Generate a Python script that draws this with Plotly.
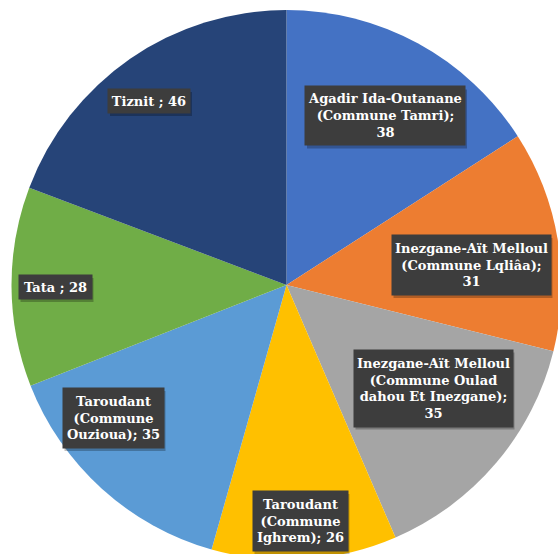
import plotly.graph_objects as go

provinces = [
    "Agadir Ida-Outanane<br>(Commune Tamri);<br>38",
    "Inezgane-Aït Melloul<br>(Commune Lqliâa);<br>31",
    "Inezgane-Aït Melloul<br>(Commune Oulad<br>dahou Et Inezgane);<br>35",
    "Taroudant<br>(Commune<br>Ighrem); 26",
    "Taroudant<br>(Commune<br>Ouzioua); 35",
    "Tata ; 28",
    "Tiznit ; 46",
]
values = [38, 31, 35, 26, 35, 28, 46]
colors = ["#4472C4", "#ED7D31", "#A5A5A5", "#FFC000", "#5B9BD5", "#70AD47", "#264478"]

# label box centres and sizes in screen pixels
label_px = [(385, 116), (471, 265), (433, 388), (300, 521), (113, 418), (55, 287), (149, 101)]
label_wh = [(160, 59), (159, 60), (159, 77), (95, 60), (101, 60), (73, 24), (82, 24)]

W, H = 570, 570


def px2paper(px, py):
    return px / W, 1 - py / H


# pie centre (286.5, 285), radius 275 in screen pixels
fig = go.Figure(go.Pie(
    labels=[p.replace("<br>", " ") for p in provinces],
    values=values,
    sort=False,
    direction="clockwise",
    rotation=0,
    marker=dict(colors=colors, line=dict(width=0)),
    textinfo="none",
    hoverinfo="label+value",
    domain=dict(x=[11.5 / W, 561.5 / W], y=[1 - 560 / H, 1 - 10 / H]),
    showlegend=False,
))

for txt, (px, py), (bw, bh) in zip(provinces, label_px, label_wh):
    x0, y1 = px2paper(px - bw / 2 + 2, py - bh / 2 + 3)
    x1, y0 = px2paper(px + bw / 2 + 2, py + bh / 2 + 3)
    fig.add_shape(type="rect", xref="paper", yref="paper",
                  x0=x0, x1=x1, y0=y0, y1=y1,
                  fillcolor="rgba(0,0,0,0.25)", line=dict(width=0), layer="above")
    x, y = px2paper(px, py)
    fig.add_annotation(
        x=x, y=y, xref="paper", yref="paper",
        text="<b>" + txt + "</b>", showarrow=False,
        font=dict(family="DejaVu Serif", size=13, color="white"),
        bgcolor="#3d3d3d", borderpad=0, width=bw, height=bh,
        align="center", valign="middle",
        xanchor="center", yanchor="middle",
    )

fig.update_layout(
    width=W, height=H, autosize=False,
    margin=dict(l=0, r=0, t=0, b=0),
    paper_bgcolor="white", plot_bgcolor="white",
)

fig.write_html(
    "out.html",
    config={"displayModeBar": False},
    post_script=(
        "document.body.style.margin='0';"
        "document.documentElement.style.overflow='hidden';"
        "document.body.style.overflow='hidden';"
    ),
)
